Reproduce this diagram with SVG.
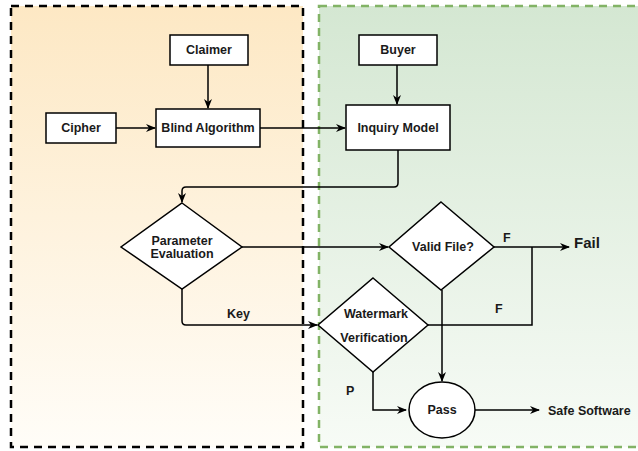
<svg xmlns="http://www.w3.org/2000/svg" width="638" height="451" viewBox="0 0 638 451">
<defs>
<linearGradient id="gOrange" x1="0" y1="0" x2="0" y2="1">
<stop offset="0" stop-color="#fde8c4"/>
<stop offset="1" stop-color="#fffdf8"/>
</linearGradient>
<linearGradient id="gGreen" x1="0" y1="0" x2="0" y2="1">
<stop offset="0" stop-color="#d4e7d2"/>
<stop offset="1" stop-color="#f7fbf6"/>
</linearGradient>
<marker id="arr" markerWidth="10" markerHeight="8" refX="9" refY="4" orient="auto" markerUnits="userSpaceOnUse">
<path d="M0,0 L10,4 L0,8 L3,4 Z" fill="#000"/>
</marker>
<style>
.box{fill:#fff;stroke:#000;stroke-width:1.5}
.t{font-family:"Liberation Sans",Arial,sans-serif;font-size:12.5px;font-weight:bold;fill:#1a1a1a;text-anchor:middle;dominant-baseline:central}
.lbl{font-family:"Liberation Sans",Arial,sans-serif;font-size:12.5px;font-weight:bold;fill:#1a1a1a;dominant-baseline:central}
.c{fill:none;stroke:#000;stroke-width:1.5}
</style>
</defs>
<g id="lanes">
<rect x="11" y="6" width="292" height="441" fill="url(#gOrange)" stroke="#000" stroke-width="2.5" stroke-dasharray="8,6"/>
<rect x="319" y="6" width="330" height="441" fill="url(#gGreen)" stroke="#82b366" stroke-width="2.5" stroke-dasharray="8,6"/>
</g>
<g id="connectors">
<path class="c" d="M208,65 V108" marker-end="url(#arr)"/>
<path class="c" d="M116,128 H155" marker-end="url(#arr)"/>
<path class="c" d="M260,128 H345" marker-end="url(#arr)"/>
<path class="c" d="M397,65 V104" marker-end="url(#arr)"/>
<path class="c" d="M398,150 V183 Q398,187 394,187 H186 Q182,187 182,191 V202" marker-end="url(#arr)"/>
<path class="c" d="M242,247 H388" marker-end="url(#arr)"/>
<path class="c" d="M182,289 V321 Q182,325 186,325 H317" marker-end="url(#arr)"/>
<path class="c" d="M494,247 H569" marker-end="url(#arr)"/>
<path class="c" d="M428,325 H532 V247"/>
<path class="c" d="M442,290 V381" marker-end="url(#arr)"/>
<path class="c" d="M373,372 V410 H406" marker-end="url(#arr)"/>
<path class="c" d="M475,410 H539" marker-end="url(#arr)"/>
<text class="lbl" x="227" y="314">Key</text>
<text class="lbl" x="503" y="238">F</text>
<text class="lbl" x="495" y="309">F</text>
<text class="lbl" x="346" y="391">P</text>
</g>
<g id="claimer"><rect class="box" x="170" y="35" width="78" height="30"/><text class="t" x="209" y="50">Claimer</text></g>
<g id="cipher"><rect class="box" x="46" y="113" width="70" height="30"/><text class="t" x="81" y="128">Cipher</text></g>
<g id="blind"><rect class="box" x="156" y="109" width="104" height="38"/><text class="t" x="208" y="128">Blind Algorithm</text></g>
<g id="buyer"><rect class="box" x="359" y="35" width="78" height="30"/><text class="t" x="398" y="50">Buyer</text></g>
<g id="inquiry"><rect class="box" x="346" y="105" width="104" height="45"/><text class="t" x="398" y="128">Inquiry Model</text></g>
<g id="param"><polygon class="box" points="182,203 242,247 182,289 121,247"/><text class="t" x="182" y="241">Parameter</text><text class="t" x="182" y="254">Evaluation</text></g>
<g id="valid"><polygon class="box" points="441,202 494,247 441,290 389,247"/><text class="t" x="443" y="247">Valid File?</text></g>
<g id="watermark"><polygon class="box" points="373,278 428,325 373,372 318,325"/><text class="t" x="376" y="314">Watermark</text><text class="t" x="374" y="338">Verification</text></g>
<g id="pass"><ellipse class="box" cx="442" cy="410" rx="33" ry="28"/><text class="t" x="442" y="410">Pass</text></g>
<g id="fail"><text class="lbl" x="574" y="242" style="font-size:15px">Fail</text></g>
<g id="safe"><text class="lbl" x="548" y="411">Safe Software</text></g>
</svg>
